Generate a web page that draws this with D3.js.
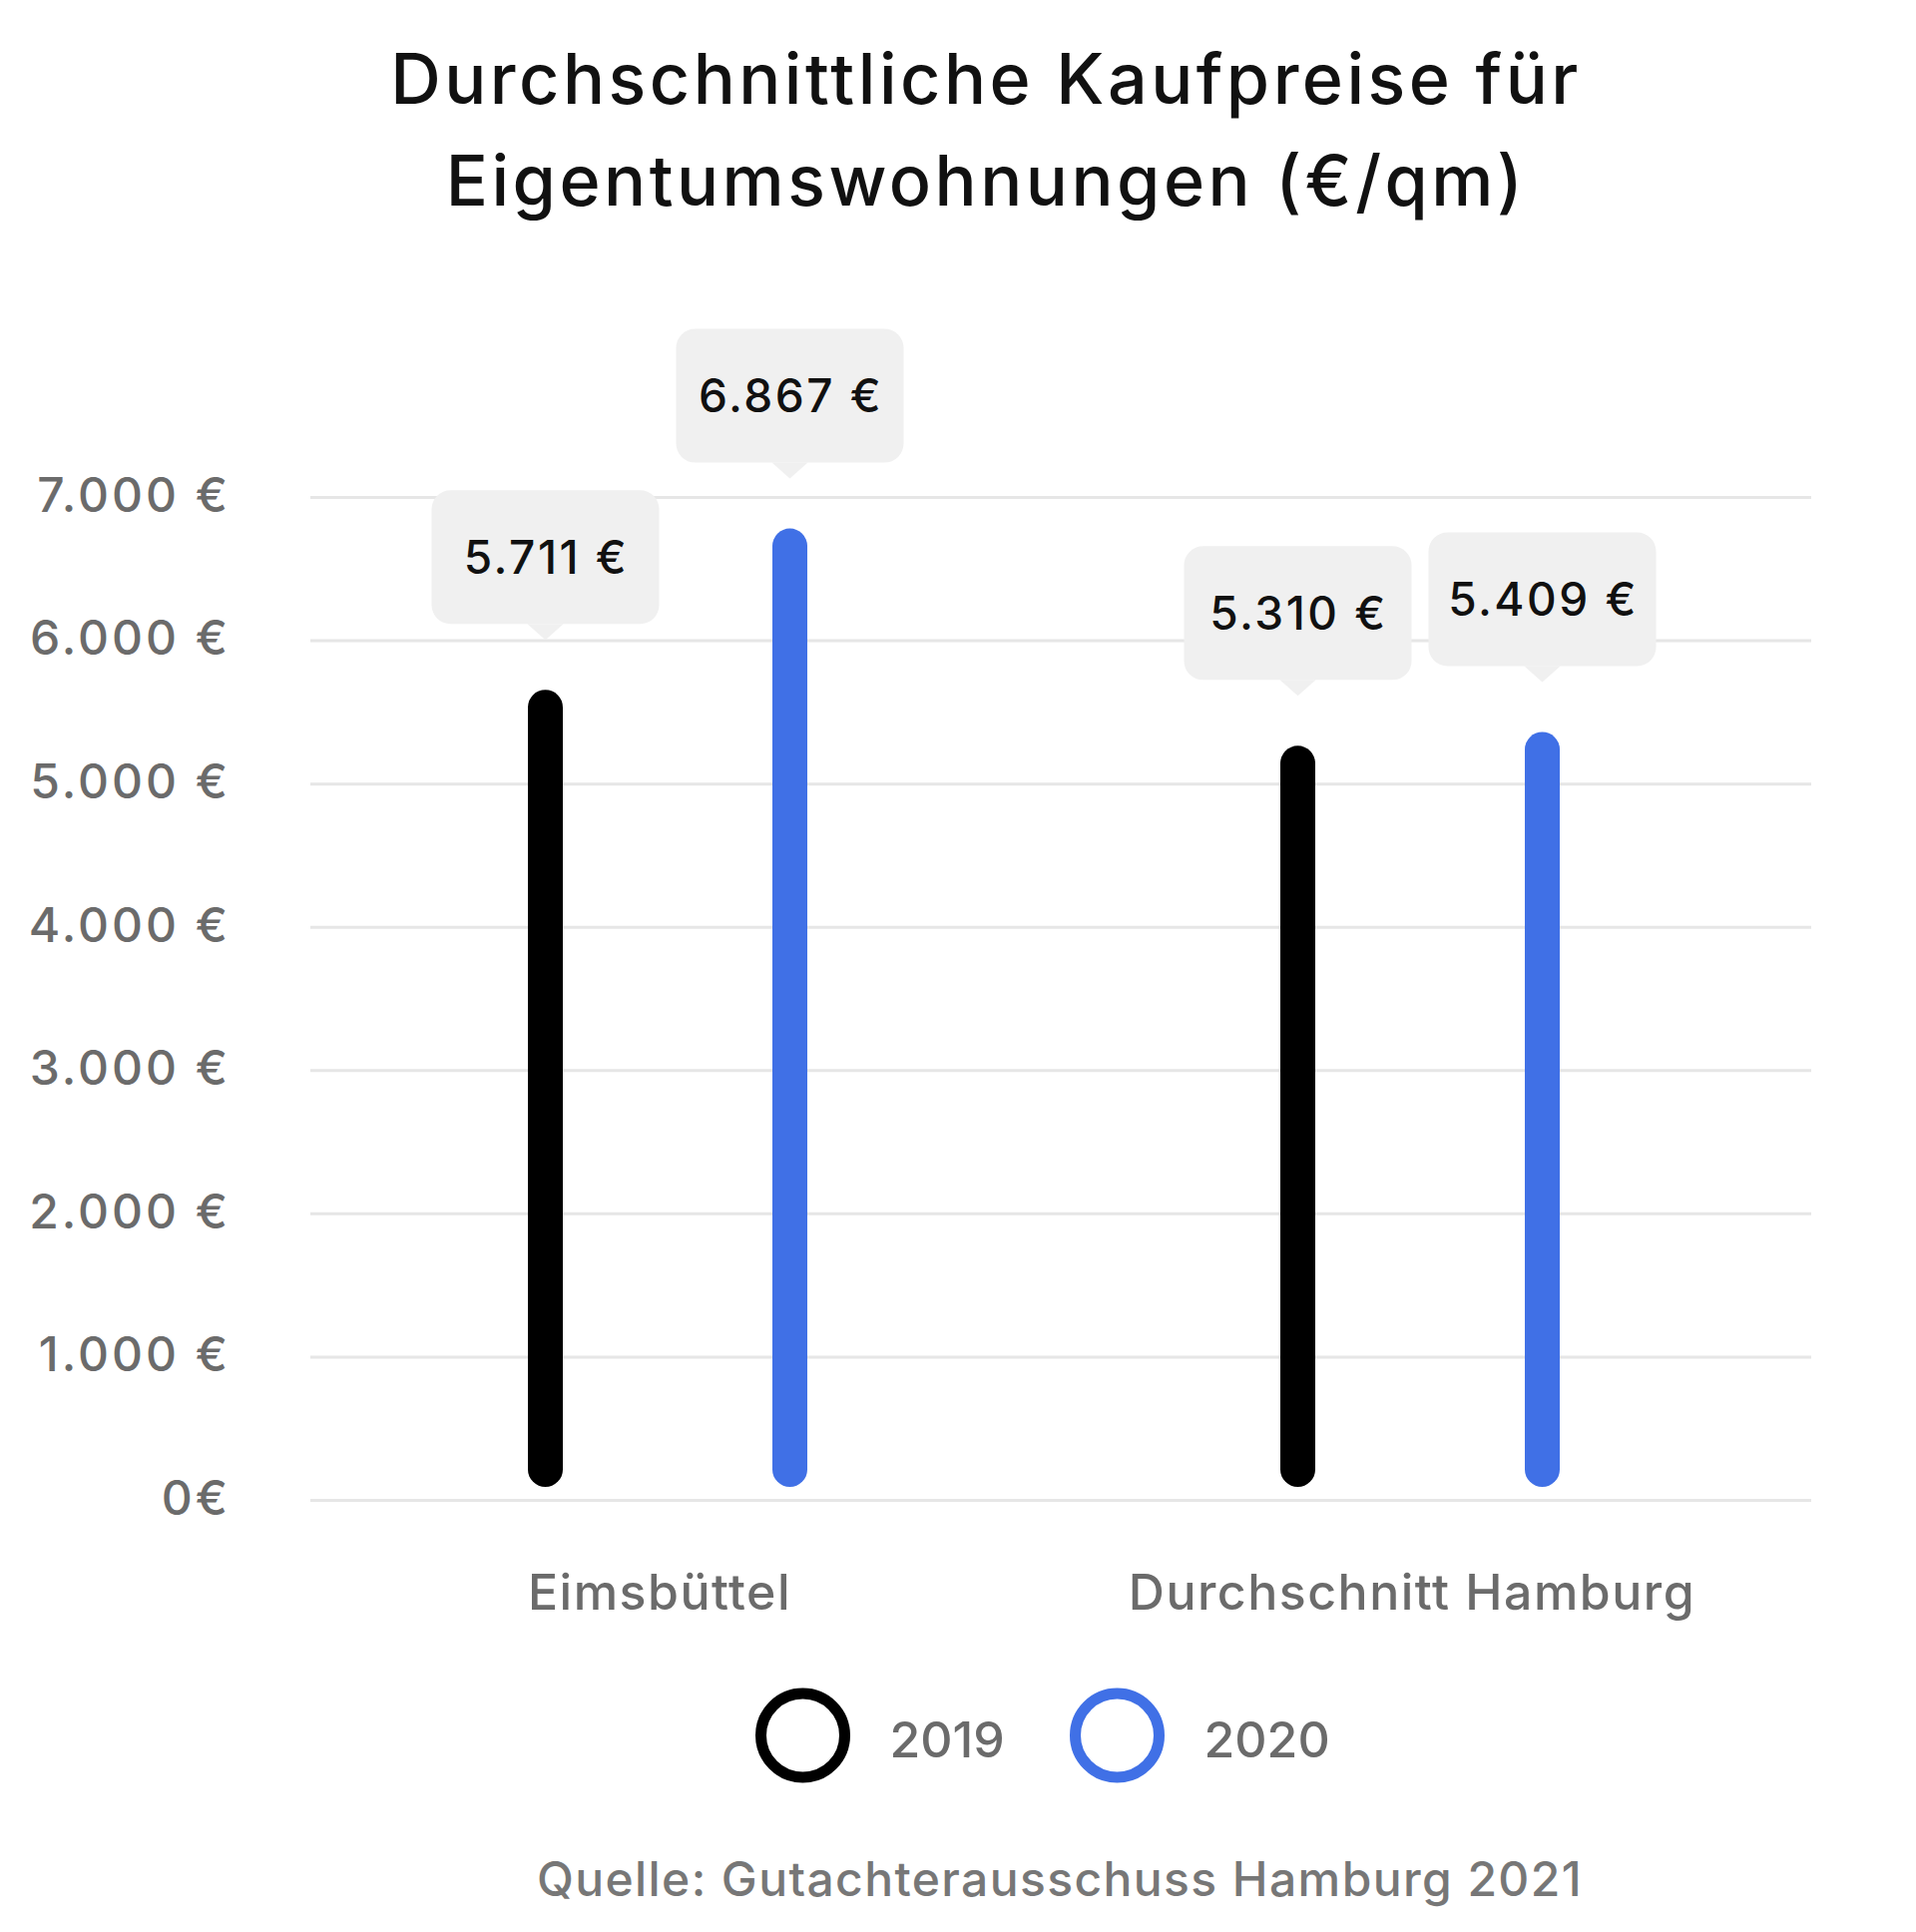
<!DOCTYPE html>
<html>
  <head>
    <meta charset="UTF-8" />
    <style>
      body {
        margin: 0;
        background: #fff;
        font-family: "Inter", "Lato", sans-serif;
      }
      svg {
        display: block;
      }
    </style>
  </head>
  <body>
    <svg></svg>
    <script src="https://d3js.org/d3.v7.min.js"></script>
    <script>
      // Data
      let categories = ["Eimsbüttel", "Durchschnitt Hamburg"];
      let years = ["2019", "2020"];
      let values2019 = [5711, 5310];
      let values2020 = [6867, 5409];
      let yTicks = [0, 1000, 2000, 3000, 4000, 5000, 6000, 7000];
      let titleLines = [
        "Durchschnittliche Kaufpreise für",
        "Eigentumswohnungen (€/qm)",
      ];
      let source = "Quelle: Gutachterausschuss Hamburg 2021";

      let width = 1920,
        height = 1936;

      let svg = d3
        .select("svg")
        .attr("width", width)
        .attr("height", height)
        .attr("viewBox", "0 0 " + width + " " + height);

      let colour = d3
        .scaleOrdinal()
        .domain(years)
        .range(["#000000", "#4070e6"]);

      let de = d3.formatLocale({
        decimal: ",",
        thousands: ".",
        grouping: [3],
        currency: ["", " €"],
      });
      let fmt = (d) => (d === 0 ? "0€" : de.format(",")(d) + " €");

      // rows for bars
      let rows = [];
      categories.forEach((c, i) => {
        rows.push({ cat: c, year: "2019", value: values2019[i] });
        rows.push({ cat: c, year: "2020", value: values2020[i] });
      });

      //Scales
      let gridLeft = 311,
        gridRight = 1815;

      let y = d3.scaleLinear().domain([0, 7000]).range([1503, 498]);
      // the bars sit a little above the zero line
      let yBar = d3.scaleLinear().domain([0, 7000]).range([1490, 511]);

      let x0 = d3.scaleBand().domain(categories).range([292, 1800]);
      let x1 = d3.scalePoint().domain(years).range([-122.5, 122.5]);
      let barX = (d) => x0(d.cat) + x0.bandwidth() / 2 + x1(d.year);

      //Title
      svg
        .append("g")
        .selectAll("text")
        .data(titleLines)
        .enter()
        .append("text")
        .attr("x", 988)
        .attr("y", (d, i) => 104 + i * 102)
        .attr("text-anchor", "middle")
        .style("font-size", "70px")
        .style("font-weight", 500)
        .style("letter-spacing", "3.5px")
        .style("fill", "#111")
        .text((d) => d);

      //Y axis + grid
      let yAxis = svg
        .append("g")
        .attr("transform", "translate(" + gridLeft + ",0)")
        .call(
          d3
            .axisLeft(y)
            .tickValues(yTicks)
            .tickSize(-(gridRight - gridLeft))
            .tickPadding(80)
            .tickFormat(fmt)
        );
      yAxis.select(".domain").remove();
      yAxis
        .selectAll(".tick line")
        .attr("stroke", "#e6e6e6")
        .attr("stroke-width", 3);
      yAxis
        .selectAll(".tick text")
        .attr("dy", "0.3em")
        .style("font-family", "Inter, Lato, sans-serif")
        .style("font-size", "48px")
        .style("font-weight", 500)
        .style("letter-spacing", "3px")
        .style("fill", "#6b6b6b");

      //Bars
      svg
        .append("g")
        .selectAll("line")
        .data(rows)
        .enter()
        .append("line")
        .attr("x1", barX)
        .attr("x2", barX)
        .attr("y1", yBar(0) - 17.5)
        .attr("y2", (d) => yBar(d.value) + 17.5)
        .attr("stroke", (d) => colour(d.year))
        .attr("stroke-width", 35)
        .attr("stroke-linecap", "round");

      //Value tooltips
      let boxW = 228,
        boxH = 134,
        tipH = 16,
        tipW = 36,
        gap = 50;

      let tips = svg
        .append("g")
        .selectAll("g")
        .data(rows)
        .enter()
        .append("g")
        .attr(
          "transform",
          (d) => "translate(" + barX(d) + "," + (yBar(d.value) - gap) + ")"
        );

      tips
        .append("rect")
        .attr("x", -boxW / 2)
        .attr("y", -tipH - boxH)
        .attr("width", boxW)
        .attr("height", boxH)
        .attr("rx", 19)
        .attr("fill", "#f0f0f0");

      tips
        .append("path")
        .attr(
          "d",
          "M" +
            -tipW / 2 +
            "," +
            -tipH +
            "L0,0L" +
            tipW / 2 +
            "," +
            -tipH +
            "Z"
        )
        .attr("fill", "#f0f0f0");

      tips
        .append("text")
        .attr("x", 1)
        .attr("y", -tipH - boxH / 2)
        .attr("dy", "0.36em")
        .attr("text-anchor", "middle")
        .style("font-size", "46px")
        .style("font-weight", 500)
        .style("letter-spacing", "2.5px")
        .style("fill", "#111")
        .text((d) => fmt(d.value));

      //Category labels
      svg
        .append("g")
        .selectAll("text")
        .data(categories)
        .enter()
        .append("text")
        .attr("x", (d) => x0(d) + x0.bandwidth() / 2 - 8)
        .attr("y", 1613)
        .attr("text-anchor", "middle")
        .style("font-size", "50px")
        .style("font-weight", 500)
        .style("letter-spacing", "1.5px")
        .style("fill", "#6b6b6b")
        .text((d) => d);

      //Legend
      let legend = svg
        .append("g")
        .selectAll("g")
        .data(years)
        .enter()
        .append("g")
        .attr("transform", (d, i) => "translate(" + (804.5 + i * 315) + ",1739)");

      legend
        .append("circle")
        .attr("r", 42)
        .attr("fill", "none")
        .attr("stroke", (d) => colour(d))
        .attr("stroke-width", 11);

      legend
        .append("text")
        .attr("x", 87)
        .attr("y", 22)
        .style("font-size", "50px")
        .style("font-weight", 500)
        .style("fill", "#6b6b6b")
        .text((d) => d);

      //Source
      svg
        .append("text")
        .attr("x", 1062)
        .attr("y", 1900)
        .attr("text-anchor", "middle")
        .style("font-size", "48px")
        .style("font-weight", 500)
        .style("letter-spacing", "1.4px")
        .style("fill", "#777")
        .text(source);
    </script>
  </body>
</html>
